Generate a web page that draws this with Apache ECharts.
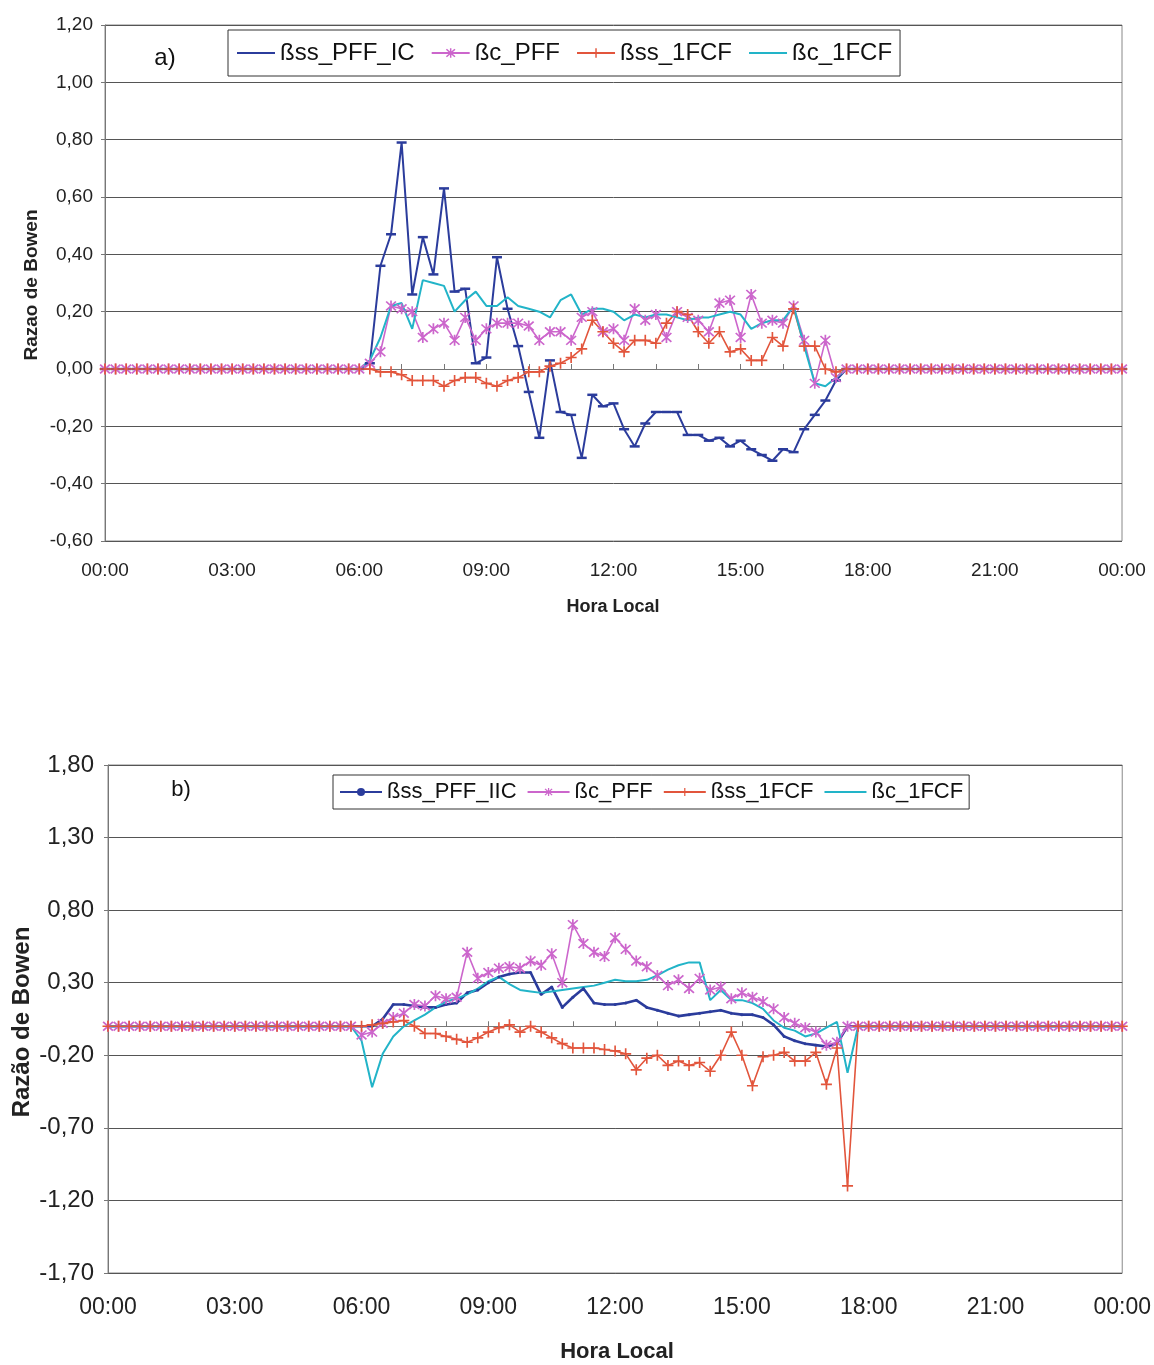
<!DOCTYPE html>
<html><head><meta charset="utf-8">
<script src="https://cdn.jsdelivr.net/npm/echarts@6/dist/echarts.min.js"></script>
<style>html,body{margin:0;padding:0;background:#fff}#c{width:1154px;height:1365px}</style>
</head><body><div id="c"></div>
<script>
// ---- x categories: 15-minute steps 00:00 .. 24:00 ----
const timeLabels = [];
for (let h = 0; h <= 24; h++) {
  for (let q = 0; q < 4; q++) {
    if (h === 24 && q > 0) break;
    timeLabels.push(String(h).padStart(2, '0') + ':' + String(q * 15).padStart(2, '0'));
  }
}

// ---- chart a) Razao de Bowen ----
const a_yTicks = [-0.6, -0.4, -0.2, 0, 0.2, 0.4, 0.6, 0.8, 1.0, 1.2];
const a_ss_PFF_IC = [
  0,0,0,0,0,0,0,0,0,0,0,0,0,0,0,0,0,0,0,0,0,0,0,0,
  0,0.02,0.36,0.47,0.79,0.26,0.46,0.33,0.63,0.27,0.28,0.02,0.04,0.39,0.21,0.08,-0.08,-0.24,0.03,-0.15,-0.16,-0.31,-0.09,-0.13,-0.12,-0.21,-0.27,-0.19,-0.15,-0.15,-0.15,-0.23,-0.23,-0.25,-0.24,-0.27,-0.25,-0.28,-0.30,-0.32,-0.28,-0.29,-0.21,-0.16,-0.11,-0.04,0,
  0,0,0,0,0,0,0,0,0,0,0,0,0,0,0,0,0,0,0,0,0,0,0,0,0,0
];
const a_c_PFF = [
  0,0,0,0,0,0,0,0,0,0,0,0,0,0,0,0,0,0,0,0,0,0,0,0,
  0,0.02,0.06,0.22,0.21,0.20,0.11,0.14,0.16,0.10,0.18,0.10,0.14,0.16,0.16,0.16,0.15,0.10,0.13,0.13,0.10,0.18,0.20,0.13,0.14,0.10,0.21,0.17,0.19,0.11,0.20,0.18,0.17,0.13,0.23,0.24,0.11,0.26,0.16,0.17,0.16,0.22,0.10,-0.05,0.10,-0.03,0,
  0,0,0,0,0,0,0,0,0,0,0,0,0,0,0,0,0,0,0,0,0,0,0,0,0,0
];
const a_ss_1FCF = [
  0,0,0,0,0,0,0,0,0,0,0,0,0,0,0,0,0,0,0,0,0,0,0,0,
  0,0,-0.01,-0.01,-0.02,-0.04,-0.04,-0.04,-0.06,-0.04,-0.03,-0.03,-0.05,-0.06,-0.04,-0.03,-0.01,-0.01,0.01,0.02,0.04,0.07,0.17,0.13,0.09,0.06,0.10,0.10,0.09,0.16,0.20,0.19,0.13,0.09,0.13,0.06,0.07,0.03,0.03,0.11,0.08,0.21,0.08,0.08,0,-0.01,0,
  0,0,0,0,0,0,0,0,0,0,0,0,0,0,0,0,0,0,0,0,0,0,0,0,0,0
];
const a_c_1FCF = [
  0,0,0,0,0,0,0,0,0,0,0,0,0,0,0,0,0,0,0,0,0,0,0,0,
  0,0.03,0.11,0.22,0.23,0.14,0.31,0.30,0.29,0.20,0.24,0.27,0.22,0.22,0.25,0.22,0.21,0.20,0.18,0.24,0.26,0.19,0.21,0.21,0.20,0.17,0.19,0.18,0.19,0.19,0.18,0.17,0.18,0.18,0.19,0.20,0.19,0.14,0.16,0.17,0.17,0.22,0.08,-0.05,-0.06,-0.03,0,
  0,0,0,0,0,0,0,0,0,0,0,0,0,0,0,0,0,0,0,0,0,0,0,0,0,0
];

// ---- chart b) Razão de Bowen ----
const b_yTicks = [-1.7, -1.2, -0.7, -0.2, 0.3, 0.8, 1.3, 1.8];
const b_ss_PFF_IIC = [
  0,0,0,0,0,0,0,0,0,0,0,0,0,0,0,0,0,0,0,0,0,0,0,0,
  0,0,0.05,0.15,0.15,0.14,0.13,0.13,0.15,0.16,0.23,0.25,0.30,0.34,0.36,0.37,0.37,0.22,0.27,0.13,0.20,0.26,0.16,0.15,0.15,0.16,0.18,0.13,0.11,0.09,0.07,0.08,0.09,0.10,0.11,0.09,0.08,0.08,0.06,0.01,-0.07,-0.10,-0.12,-0.13,-0.14,-0.12,0,0,
  0,0,0,0,0,0,0,0,0,0,0,0,0,0,0,0,0,0,0,0,0,0,0,0,0
];
const b_c_PFF = [
  0,0,0,0,0,0,0,0,0,0,0,0,0,0,0,0,0,0,0,0,0,0,0,0,
  -0.06,-0.04,0.02,0.06,0.09,0.15,0.14,0.21,0.19,0.20,0.51,0.33,0.37,0.40,0.41,0.40,0.45,0.42,0.50,0.30,0.70,0.57,0.51,0.48,0.61,0.53,0.45,0.41,0.35,0.28,0.32,0.26,0.33,0.25,0.27,0.19,0.23,0.20,0.17,0.12,0.06,0.02,-0.01,-0.04,-0.13,-0.11,0,0,
  0,0,0,0,0,0,0,0,0,0,0,0,0,0,0,0,0,0,0,0,0,0,0,0,0
];
const b_ss_1FCF = [
  0,0,0,0,0,0,0,0,0,0,0,0,0,0,0,0,0,0,0,0,0,0,0,0,
  0,0.01,0.02,0.03,0.04,0,-0.05,-0.05,-0.07,-0.09,-0.11,-0.08,-0.04,-0.01,0.01,-0.04,0,-0.04,-0.08,-0.12,-0.15,-0.15,-0.15,-0.16,-0.17,-0.19,-0.30,-0.22,-0.20,-0.27,-0.24,-0.27,-0.25,-0.31,-0.20,-0.04,-0.20,-0.41,-0.21,-0.20,-0.18,-0.24,-0.24,-0.18,-0.40,-0.15,-1.10,0,
  0,0,0,0,0,0,0,0,0,0,0,0,0,0,0,0,0,0,0,0,0,0,0,0,0
];
const b_c_1FCF = [
  0,0,0,0,0,0,0,0,0,0,0,0,0,0,0,0,0,0,0,0,0,0,0,0,
  -0.10,-0.42,-0.19,-0.07,0,0.04,0.08,0.13,0.17,0.19,0.22,0.26,0.31,0.34,0.29,0.25,0.24,0.23,0.24,0.25,0.26,0.27,0.28,0.30,0.32,0.31,0.31,0.32,0.35,0.39,0.42,0.44,0.44,0.18,0.25,0.18,0.18,0.16,0.12,0.04,-0.01,-0.03,-0.07,-0.05,-0.01,0.03,-0.32,0,
  0,0,0,0,0,0,0,0,0,0,0,0,0,0,0,0,0,0,0,0,0,0,0,0,0
];

const namesA = ['ßss_PFF_IC', 'ßc_PFF', 'ßss_1FCF', 'ßc_1FCF'];
const namesB = ['ßss_PFF_IIC', 'ßc_PFF', 'ßss_1FCF', 'ßc_1FCF'];

// ---- styling ----
const FONT = 'Arial, "Liberation Sans", sans-serif';
const C_BLUE = '#2b3c9c', C_MAG = '#cc66cc', C_RED = '#e2553c', C_CYAN = '#22b4c8';
const STAR = 'path://M-1.4,-10L1.4,-10L1.4,10L-1.4,10Z M-9,-7L-7,-9L9,7L7,9Z M7,-9L9,-7L-7,9L-9,7Z';
const PLUS = 'path://M-1.2,-8L1.2,-8L1.2,-1.2L8,-1.2L8,1.2L1.2,1.2L1.2,8L-1.2,8L-1.2,1.2L-8,1.2L-8,-1.2L-1.2,-1.2Z';
const HIDDEN = { color: 'rgba(0,0,0,0)', borderColor: 'rgba(0,0,0,0)', borderWidth: 0 };
const fmt = v => v.toFixed(2).replace('.', ',');

function xAxis(gi, fs, margin) {
  return {
    type: 'category', gridIndex: gi, data: timeLabels, boundaryGap: false,
    axisLine: { lineStyle: { color: '#777', width: 1 } },
    axisTick: { show: true, inside: true, length: 5, interval: i => i % 4 === 0, lineStyle: { color: '#777' } },
    axisLabel: { interval: i => i % 12 === 0, formatter: v => (v === '24:00' ? '00:00' : v),
                 color: '#222', fontSize: fs, fontFamily: FONT, margin: margin },
    splitLine: { show: false }
  };
}
function yAxis(gi, ticks, fs, margin) {
  return {
    type: 'value', gridIndex: gi, min: ticks[0], max: ticks[ticks.length - 1],
    interval: +(ticks[1] - ticks[0]).toFixed(2),
    axisLine: { show: true, lineStyle: { color: '#777' } },
    axisTick: { show: true, length: 4, lineStyle: { color: '#777' } },
    axisLabel: { formatter: fmt, color: '#222', fontSize: fs, fontFamily: FONT, margin: margin,
                 showMinLabel: true, showMaxLabel: true },
    splitLine: { show: true, lineStyle: { color: '#555', width: 1 } }
  };
}
function series(gi, names, data, blueSym) {
  return [
    { name: names[0], type: 'line', xAxisIndex: gi, yAxisIndex: gi, data: data[0], color: C_BLUE,
      lineStyle: { width: gi === 0 ? 2 : 2.6 }, symbol: blueSym[0], symbolSize: blueSym[1], showAllSymbol: true,
      itemStyle: { color: C_BLUE, borderWidth: 0 } },
    { name: names[1], type: 'line', xAxisIndex: gi, yAxisIndex: gi, data: data[1], color: C_MAG,
      lineStyle: { width: 1.6 }, symbol: STAR, symbolSize: 11, showAllSymbol: true,
      itemStyle: { color: C_MAG, borderWidth: 0 } },
    { name: names[2], type: 'line', xAxisIndex: gi, yAxisIndex: gi, data: data[2], color: C_RED,
      lineStyle: { width: 1.6 }, symbol: PLUS, symbolSize: 11, showAllSymbol: true,
      itemStyle: { color: C_RED, borderWidth: 0 } },
    { name: names[3], type: 'line', xAxisIndex: gi, yAxisIndex: gi, data: data[3], color: C_CYAN,
      lineStyle: { width: 2 }, symbol: 'none', itemStyle: { color: C_CYAN } }
  ];
}

const legendA = [
  { name: namesA[0], itemStyle: HIDDEN },
  { name: namesA[1] },
  { name: namesA[2] },
  { name: namesA[3], itemStyle: HIDDEN }
];
const legendB = [
  { name: namesB[0], itemStyle: { color: C_BLUE } },
  { name: namesB[1] },
  { name: namesB[2] },
  { name: namesB[3], itemStyle: HIDDEN }
];

const chart = echarts.init(document.getElementById('c'), null, { renderer: 'canvas' });
chart.setOption({
  animation: false,
  backgroundColor: '#fff',
  grid: [
    { left: 105, top: 25, width: 1017, height: 516, show: true, borderColor: '#888', borderWidth: 1, containLabel: false },
    { left: 108, top: 765, width: 1015, height: 508, show: true, borderColor: '#888', borderWidth: 1, containLabel: false }
  ],
  xAxis: [xAxis(0, 19, 20), xAxis(1, 23, 23)],
  yAxis: [yAxis(0, a_yTicks, 19, 12), yAxis(1, b_yTicks, 24, 14)],
  legend: [
    { data: legendA, left: 228, top: 30, orient: 'horizontal', borderColor: '#333', borderWidth: 1,
      padding: [11, 8, 11, 8], itemGap: 16, itemWidth: 38, itemHeight: 12, selectedMode: false,
      textStyle: { fontSize: 24, color: '#111', fontFamily: FONT } },
    { data: legendB, left: 333, top: 775, orient: 'horizontal', borderColor: '#333', borderWidth: 1,
      padding: [6, 6, 6, 6], itemGap: 10, itemWidth: 42, itemHeight: 10, selectedMode: false,
      textStyle: { fontSize: 22, color: '#111', fontFamily: FONT } }
  ],
  graphic: [
    { type: 'text', x: 165, y: 58, style: { text: 'a)', font: '24px ' + FONT, fill: '#111', align: 'center', verticalAlign: 'middle' } },
    { type: 'text', x: 181, y: 790, style: { text: 'b)', font: '22px ' + FONT, fill: '#111', align: 'center', verticalAlign: 'middle' } },
    { type: 'text', x: 32, y: 285, rotation: Math.PI / 2, style: { text: 'Razao de Bowen', font: 'bold 19px ' + FONT, fill: '#222', align: 'center', verticalAlign: 'middle' } },
    { type: 'text', x: 22, y: 1022, rotation: Math.PI / 2, style: { text: 'Razão de Bowen', font: 'bold 24px ' + FONT, fill: '#222', align: 'center', verticalAlign: 'middle' } },
    { type: 'text', x: 613, y: 607, style: { text: 'Hora Local', font: 'bold 18px ' + FONT, fill: '#222', align: 'center', verticalAlign: 'middle' } },
    { type: 'text', x: 617, y: 1352, style: { text: 'Hora Local', font: 'bold 22px ' + FONT, fill: '#222', align: 'center', verticalAlign: 'middle' } }
  ],
  series: [
    ...series(0, namesA, [a_ss_PFF_IC, a_c_PFF, a_ss_1FCF, a_c_1FCF], ['rect', [10, 2.5]]),
    ...series(1, namesB, [b_ss_PFF_IIC, b_c_PFF, b_ss_1FCF, b_c_1FCF], ['circle', 3])
  ]
});
</script></body></html>
